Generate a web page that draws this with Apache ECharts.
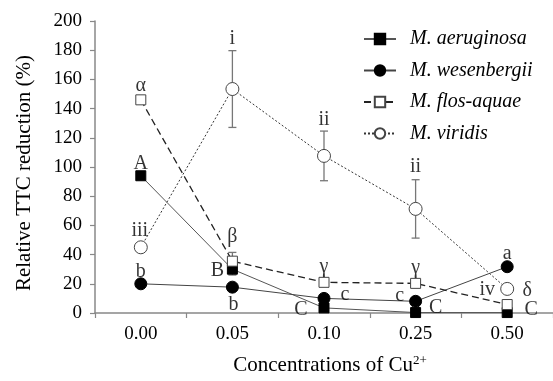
<!DOCTYPE html>
<html>
<head>
<meta charset="utf-8">
<script src="https://cdn.jsdelivr.net/npm/echarts@6/dist/echarts.min.js"></script>
<style>
  html, body { margin: 0; background: #fff; }
  #chart { width: 553px; height: 381px; }
</style>
</head>
<body>
<div id="chart"></div>
<script>
// x categories (Cu2+ concentration)
const categories = ['0.00', '0.05', '0.10', '0.25', '0.50'];

// relative TTC reduction (%)
const aeruginosa = [94, 30, 3.5, 0.3, 0.3];
const wesenbergii = [20, 17.7, 10, 8, 31.7];
const flosAquae = [146, 35.5, 21, 20.3, 5.8];
const viridis = [45, 153.4, 107.6, 71.3, 16.5];

// error bars (+/-)
const aeruginosaErr = [0, 4, 0, 0, 0];
const flosAquaeErr = [0, 6, 0, 0, 0];
const viridisErr = [0, 26.3, 17, 20, 0];

// significance letters
const aeruginosaLetters = ['A', 'B', 'C', 'C', 'C'];
const wesenbergiiLetters = ['b', 'b', 'c', 'c', 'a'];
const flosAquaeLetters = ['α', 'β', 'γ', 'γ', 'δ'];
const viridisLetters = ['iii', 'i', 'ii', 'ii', 'iv'];

const font = 'Liberation Serif';

// label offsets (px) relative to each point
const letterOffsets = {
  aer: [[0, -12], [-15, 2], [-23, 2], [20, -5], [24, -3]],
  wes: [[0, -12], [1, 18], [21, -4], [-16, -6], [0, -13]],
  flos: [[0, -14], [0, -24], [0, -16], [0, -16], [20, -14]],
  vir: [[-1, -17], [0, -50], [0, -36], [0, -42], [-20, 1]]
};

function lineSeries(name, data, symbol, size, fill, border, lineStyle) {
  return {
    name: name,
    type: 'line',
    data: data,
    symbol: symbol,
    symbolSize: size,
    z: 3,
    itemStyle: { color: fill, borderColor: border, borderWidth: 1 },
    lineStyle: lineStyle
  };
}

function errorData(values, errs) {
  const out = [];
  values.forEach((v, i) => {
    if (errs[i] > 0) out.push([i, v - errs[i], v + errs[i]]);
  });
  return out;
}

function letterData(values, letters, offsets) {
  return values.map((v, i) => ({
    value: [i, v],
    label: { formatter: letters[i], offset: offsets[i] }
  }));
}

const errors = [].concat(
  errorData(aeruginosa, aeruginosaErr),
  errorData(flosAquae, flosAquaeErr),
  errorData(viridis, viridisErr)
);

const letters = [].concat(
  letterData(aeruginosa, aeruginosaLetters, letterOffsets.aer),
  letterData(wesenbergii, wesenbergiiLetters, letterOffsets.wes),
  letterData(flosAquae, flosAquaeLetters, letterOffsets.flos),
  letterData(viridis, viridisLetters, letterOffsets.vir)
);

const chart = echarts.init(document.getElementById('chart'));

const option = {
  animation: false,
  textStyle: { fontFamily: font },
  grid: { left: 95, right: -2, top: 21, bottom: 62 },
  legend: {
    orient: 'vertical',
    left: 358,
    top: 24,
    itemWidth: 32,
    itemHeight: 13,
    itemGap: 11.5,
    data: ['M. aeruginosa', 'M. wesenbergii', 'M. flos-aquae', 'M. viridis'],
    textStyle: {
      fontFamily: font,
      fontStyle: 'italic',
      fontSize: 20,
      lineHeight: 20,
      color: '#000',
      padding: [0, 0, 0, 9]
    }
  },
  xAxis: {
    type: 'category',
    data: categories,
    boundaryGap: true,
    axisLine: { lineStyle: { color: '#888', width: 1.5 } },
    axisTick: { show: true, length: 5, lineStyle: { color: '#888', width: 1.2 } },
    axisLabel: { fontFamily: font, fontSize: 19, color: '#000', margin: 12 },
    name: 'Concentrations of Cu{sup|2+}',
    nameLocation: 'middle',
    nameGap: 41,
    nameTextStyle: {
      fontFamily: font,
      fontSize: 21,
      color: '#000',
      padding: [0, 0, 0, 12],
      rich: {
        sup: { fontFamily: font, fontSize: 13, color: '#000', padding: [0, 0, 10, 0] }
      }
    }
  },
  yAxis: {
    type: 'value',
    min: 0,
    max: 200,
    interval: 20,
    splitLine: { show: false },
    axisLine: { show: true, lineStyle: { color: '#888', width: 1.5 } },
    axisTick: { show: true, length: 5, lineStyle: { color: '#888', width: 1.2 } },
    axisLabel: { fontFamily: font, fontSize: 19, color: '#000', margin: 13 },
    name: 'Relative TTC reduction (%)',
    nameLocation: 'middle',
    nameGap: 60,
    nameTextStyle: { fontFamily: font, fontSize: 21, color: '#000', padding: [0, 12, 0, 0] }
  },
  series: [
    {
      name: 'errors',
      type: 'custom',
      z: 2,
      encode: { x: 0, y: [1, 2] },
      data: errors,
      renderItem: function (params, api) {
        const lo = api.coord([api.value(0), api.value(1)]);
        const hi = api.coord([api.value(0), api.value(2)]);
        const w = 4;
        const st = { stroke: '#777', lineWidth: 1.3 };
        return {
          type: 'group',
          children: [
            { type: 'line', shape: { x1: lo[0], y1: lo[1], x2: hi[0], y2: hi[1] }, style: st },
            { type: 'line', shape: { x1: lo[0] - w, y1: lo[1], x2: lo[0] + w, y2: lo[1] }, style: st },
            { type: 'line', shape: { x1: hi[0] - w, y1: hi[1], x2: hi[0] + w, y2: hi[1] }, style: st }
          ]
        };
      }
    },
    lineSeries('M. aeruginosa', aeruginosa, 'rect', 10, '#000', '#000',
      { color: '#555', width: 1, type: 'solid' }),
    lineSeries('M. wesenbergii', wesenbergii, 'circle', 12, '#000', '#000',
      { color: '#444', width: 1, type: 'solid' }),
    lineSeries('M. flos-aquae', flosAquae, 'rect', 10, '#fff', '#444',
      { color: '#222', width: 1.3, type: [7, 4] }),
    lineSeries('M. viridis', viridis, 'circle', 13, '#fff', '#444',
      { color: '#333', width: 1, type: [2, 2] }),
    {
      name: 'letters',
      type: 'scatter',
      symbolSize: 0,
      z: 5,
      silent: true,
      data: letters,
      label: {
        show: true,
        position: 'inside',
        fontFamily: font,
        fontSize: 20,
        color: '#000'
      }
    }
  ]
};

chart.setOption(option);
</script>
</body>
</html>
